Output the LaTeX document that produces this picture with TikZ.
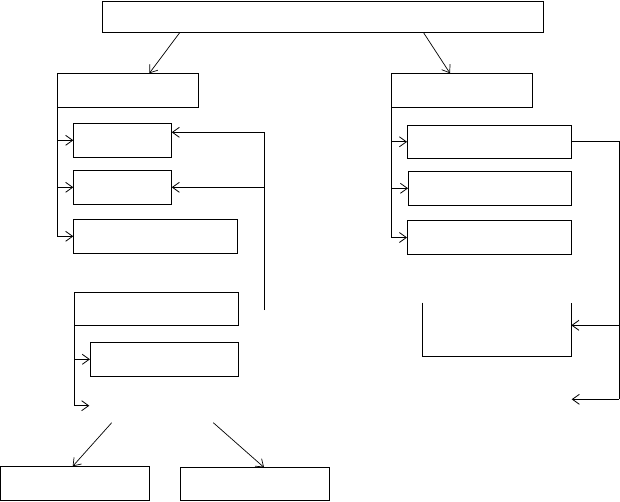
\documentclass[tikz,border=0pt]{standalone}
\usetikzlibrary{arrows.meta,calc}
\begin{document}
\begin{tikzpicture}[x=1pt,y=-1pt,
  box/.style={draw,rectangle,inner sep=0pt,outer sep=0pt,line width=0.9pt},
  ln/.style={line width=0.9pt},
  arr/.style={line width=0.9pt,-{Straight Barb[length=7pt,width=10pt,line width=0.8pt]}},
  darr/.style={line width=0.7pt,-{Straight Barb[length=7pt,width=10pt,line width=0.7pt]}}]
\useasboundingbox (0,0) rectangle (620,501);
% boxes
\node[box,minimum width=441pt,minimum height=31pt] (top) at (322.8,16.8) {};
\node[box,minimum width=141.4pt,minimum height=34pt] (A) at (128,90.3) {};
\node[box,minimum width=141pt,minimum height=34pt] (B) at (461.8,90.3) {};
\node[box,minimum width=98.4pt,minimum height=34pt] (A1) at (122.5,140.3) {};
\node[box,minimum width=98.4pt,minimum height=34pt] (A2) at (122.5,187.3) {};
\node[box,minimum width=164pt,minimum height=34pt] (A3) at (155.3,236.3) {};
\node[box,minimum width=164.4pt,minimum height=33pt] (C) at (156.5,308.8) {};
\node[box,minimum width=148.7pt,minimum height=34pt] (C1) at (164.3,359.3) {};
\node[box,minimum width=148.6pt,minimum height=34pt] (D) at (75,483.3) {};
\node[box,minimum width=148.7pt,minimum height=33pt] (E) at (254.7,483.9) {};
\node[box,minimum width=164.3pt,minimum height=33pt] (B1) at (489.2,141.8) {};
\node[box,minimum width=163.3pt,minimum height=34pt] (B2) at (489.7,188.3) {};
\node[box,minimum width=164.3pt,minimum height=34pt] (B3) at (489.2,237.5) {};
% open box
\coordinate (Utl) at (422.3,302.7);
\coordinate (Ubl) at (422.3,356.3);
\coordinate (Ubr) at (571.3,356.3);
\coordinate (Utr) at (571.3,302.7);
\coordinate (Uin) at (571.3,325.3);
\draw[ln] (Utl) -- (Ubl) -- (Ubr) -- (Utr);
% top arrows
\draw[darr] (top.south -| 180,0) -- (A.north -| 149.3,0);
\draw[darr] (top.south -| 423.3,0) -- (B.north -| 450,0);
% left bus
\draw[arr] (A.south west) |- (A1.west);
\draw[arr] (A.south west) |- (A2.west);
\draw[arr] (A.south west) |- (A3.west);
% left feedback
\coordinate (fbL) at (264.3,310);
\draw[arr] (fbL) |- ($(A1.east)+(0,-8)$);
\draw[arr] (fbL |- A2.east) -- (A2.east);
% right bus
\draw[arr] (B.south west) |- (B1.west);
\draw[arr] (B.south west) |- (B2.west);
\draw[arr] (B.south west) |- (B3.west);
% right feedback
\coordinate (fbR) at (619.3,399.3);
\coordinate (endR) at (571.7,399.3);
\draw[ln] (B1.east) -| (fbR);
\draw[arr] (fbR) -- (endR);
\draw[arr] (fbR |- Uin) -- (Uin);
% lower left
\coordinate (endC) at (89.3,405.7);
\draw[arr] (C.south west) |- (C1.west);
\draw[arr] (C.south west) |- (endC);
% diagonals
\coordinate (dS1) at (111.7,422.7);
\coordinate (dS2) at (213.3,422.7);
\draw[darr] (dS1) -- (D.north -| 72.7,0);
\draw[darr] (dS2) -- (E.north -| 264,0);
\end{tikzpicture}
\end{document}
